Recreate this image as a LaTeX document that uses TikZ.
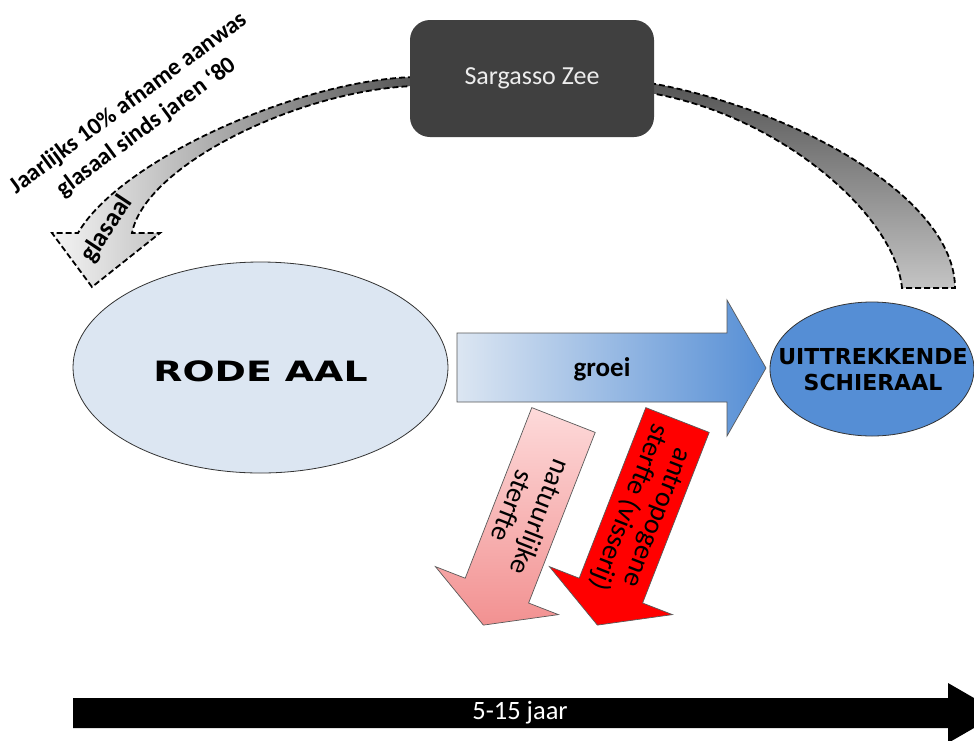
\documentclass[tikz,border=0pt]{standalone}
\usepackage{fontspec}
\setmainfont{Carlito}
\newfontfamily\comicfont{DejaVu Sans}
\usetikzlibrary{shapes.geometric}
\definecolor{boxgray}{HTML}{404040}
\definecolor{lightblue}{HTML}{DCE6F2}
\definecolor{midblue}{HTML}{558ED5}
\definecolor{pinktop}{HTML}{FDDADA}
\definecolor{pinkbot}{HTML}{F29191}
\definecolor{bandlight}{HTML}{F4F4F4}
\definecolor{banddark}{HTML}{555555}
\definecolor{bandmid}{HTML}{C4C4C4}
\begin{document}
\begin{tikzpicture}[x=1pt,y=-1pt,
  dashband/.style={draw=black, line width=1.8pt, dash pattern=on 6pt off 3pt, line join=miter},
  seabox/.style={rectangle, rounded corners=20pt, fill=boxgray, text=white!93!black,
    minimum width=244pt, minimum height=117pt, inner sep=0pt, font=\fontsize{26}{30}\selectfont},
  stage/.style={ellipse, draw=black!80, line width=0.8pt, inner sep=0pt},
  comictext/.style={font=\comicfont\bfseries\fontsize{#1}{#1}\selectfont, align=center, inner sep=0pt},
  calibold/.style={font=\bfseries\fontsize{#1}{30}\selectfont, align=center, inner sep=0pt},
  calireg/.style={font=\fontsize{#1}{30}\selectfont, align=center, inner sep=0pt},
  thinedge/.style={draw=black!65, line width=0.7pt, line join=miter}
]
\useasboundingbox (0,0) rectangle (974,740);
\clip (0,0) rectangle (974,740);

% curved bands (drawn under the box)
\path[dashband, left color=bandlight, right color=banddark]
  (414,77) .. controls (300,80) and (120,160) .. (78,233) -- (52,233) -- (92,287) -- (160,233) -- (132,233)
  .. controls (145,165) and (300,90) .. (414,86) -- cycle;
\path[dashband, top color=banddark, bottom color=bandmid]
  (650,83) .. controls (800,110) and (955,200) .. (955,288) -- (902,288)
  .. controls (895,215) and (780,115) .. (650,93) -- cycle;

\node[seabox] (sea) at (532,78.5) {Sargasso Zee};

\node[calibold=24, rotate=36.5] (note) at (137.75,115.25) {Jaarlijks 10\% afname aanwas\\glasaal sinds jaren ‘80};
\node[calibold=26, rotate=56.5] (glas) at (107,229) {glasaal};

% stages
\node[stage, fill=lightblue, minimum width=375pt, minimum height=211pt] (rode) at (260.5,367.5) {};
\node[comictext=28] (rodetext) at (260.5,371) {\scalebox{1.35}[1]{RODE AAL}};
\node[stage, fill=midblue, minimum width=204pt, minimum height=134pt] (schier) at (872,369) {};
\node[comictext=22] (schiertext) at (873,370) {UITTREKKENDE\\[4pt]SCHIERAAL};

% growth arrow
\path[thinedge, left color=lightblue, right color=midblue]
  (457,333) -- (727,333) -- (727,300) -- (766,368) -- (727,436) -- (727,402) -- (457,402) -- cycle;
\node[calibold=27] (groei) at (602,369) {groei};

% mortality arrows
\path[thinedge, top color=pinktop, bottom color=pinkbot]
  (531.8,407.6) -- (595.2,432.4) -- (528.6,603.0) -- (558.4,614.6) -- (483.4,625.1) -- (435.4,566.6) -- (465.2,578.2) -- cycle;
\path[thinedge, fill=red]
  (645.8,407.6) -- (709.2,432.4) -- (642.6,603.0) -- (672.4,614.6) -- (597.4,625.1) -- (549.4,566.6) -- (579.2,578.2) -- cycle;
\node[calireg=28, rotate=-111.3] (nat) at (527,512) {natuurlijke\\sterfte};
\node[calireg=28, rotate=-111.3] (antro) at (642,512) {antropogene\\sterfte (visserij)};

% time axis
\path[fill=black] (73,698) -- (948,698) -- (948,683) -- (1000,713) -- (948,743) -- (948,728) -- (73,728) -- cycle;
\node[calireg=26.5, text=white] (years) at (520,713) {5-15 jaar};
\end{tikzpicture}
\end{document}
